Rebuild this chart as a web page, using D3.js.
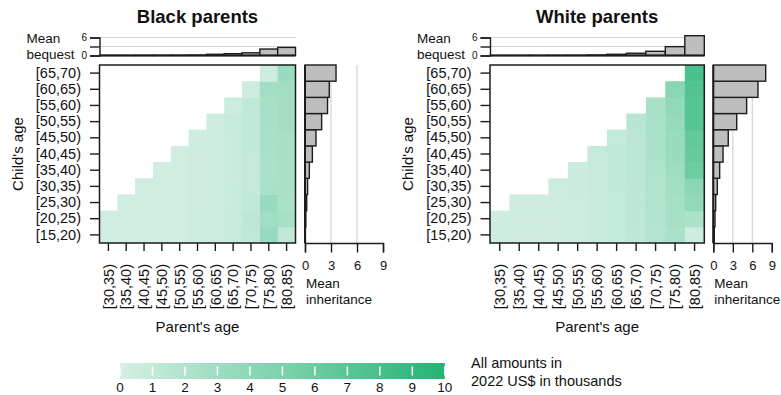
<!DOCTYPE html>
<html>
<head>
<meta charset="utf-8">
<script src="https://cdn.jsdelivr.net/npm/d3@7"></script>
<style>
  body { margin: 0; background: #fff; }
  svg text { font-family: "Liberation Sans", Arial, Helvetica, sans-serif; fill: #111; }
</style>
</head>
<body>
<svg id="chart" width="781" height="395"></svg>
<script>
// categories
const parentAges = ["[30,35)", "[35,40)", "[40,45)", "[45,50)", "[50,55)", "[55,60)",
  "[60,65)", "[65,70)", "[70,75)", "[75,80)", "[80,85)"];
const childAges = ["[15,20)", "[20,25)", "[25,30)", "[30,35)", "[35,40)", "[40,45)",
  "[45,50)", "[50,55)", "[55,60)", "[60,65)", "[65,70)"];

// mean bequest by parent's age (thousands)
const blackBequest = [0.05, 0.05, 0.06, 0.08, 0.1, 0.15, 0.4, 0.6, 0.9, 2.15, 2.7];
const whiteBequest = [0.03, 0.03, 0.04, 0.05, 0.08, 0.17, 0.4, 0.75, 1.4, 2.95, 6.6];

// mean inheritance by child's age (thousands)
const blackInherit = [0.05, 0.1, 0.2, 0.3, 0.5, 0.85, 1.27, 1.92, 2.6, 2.8, 3.58];
const whiteInherit = [0.15, 0.26, 0.37, 0.62, 0.98, 1.5, 2.3, 3.6, 5.13, 6.87, 8.06];

// heat cells: one row per child's age, one column per parent's age (null = no cell)
const N = null;
const blackHeat = [
  [0.3, 0.3, 0.3, 0.3, 0.35, 0.45, 0.55, 0.8, 1.2, 3.4, 1.2],
  [0.3, 0.3, 0.3, 0.3, 0.35, 0.45, 0.55, 0.8, 1.3, 2.9, 2.6],
  [N, 0.3, 0.3, 0.3, 0.35, 0.45, 0.5, 0.7, 1.1, 3.4, 2.4],
  [N, N, 0.3, 0.3, 0.35, 0.45, 0.5, 0.7, 1.0, 2.4, 2.5],
  [N, N, N, 0.3, 0.35, 0.45, 0.5, 0.7, 1.0, 2.3, 2.5],
  [N, N, N, N, 0.3, 0.45, 0.5, 0.7, 1.0, 2.4, 2.6],
  [N, N, N, N, N, 0.4, 0.5, 0.7, 1.1, 2.5, 2.6],
  [N, N, N, N, N, N, 0.4, 0.8, 1.1, 2.6, 2.8],
  [N, N, N, N, N, N, N, 0.5, 1.2, 2.6, 2.8],
  [N, N, N, N, N, N, N, N, 0.5, 2.8, 2.9],
  [N, N, N, N, N, N, N, N, N, 0.5, 3.3]
];
const whiteHeat = [
  [0.4, 0.4, 0.4, 0.45, 0.55, 0.75, 1.0, 1.3, 1.8, 2.4, 0.4],
  [0.4, 0.4, 0.4, 0.45, 0.55, 0.75, 1.0, 1.4, 1.9, 2.6, 2.3],
  [N, 0.4, 0.4, 0.45, 0.55, 0.75, 1.0, 1.4, 2.0, 2.7, 3.8],
  [N, N, N, 0.5, 0.6, 0.8, 1.05, 1.4, 2.0, 2.9, 4.2],
  [N, N, N, N, 0.6, 0.8, 1.1, 1.5, 2.2, 3.1, 5.8],
  [N, N, N, N, N, 0.8, 1.1, 1.5, 2.3, 3.3, 6.2],
  [N, N, N, N, N, N, 1.0, 1.5, 2.3, 3.4, 6.5],
  [N, N, N, N, N, N, N, 1.6, 2.4, 3.5, 7.2],
  [N, N, N, N, N, N, N, N, 2.5, 3.8, 7.2],
  [N, N, N, N, N, N, N, N, N, 4.3, 7.3],
  [N, N, N, N, N, N, N, N, N, N, 7.8]
];

const bequestTicks = [0, 3, 6];
const inheritTicks = [0, 3, 6, 9];
const legendTicks = d3.range(0, 11);

const color = d3.scaleLinear().domain([0, 10]).range(["#d5efe4", "#22b473"]);

const svg = d3.select("#chart");
const dark = "#1c1c1c";

function drawPanel(p) {
  const g = svg.append("g");
  const x = d3.scaleBand().domain(parentAges).range([p.x0, p.x1]);
  const y = d3.scaleBand().domain(childAges).range([243, 65]);

  // heat cells
  const cells = [];
  p.heat.forEach((row, r) => row.forEach((v, c) => {
    if (v !== null) cells.push({ child: childAges[r], parent: parentAges[c], v: v });
  }));
  g.selectAll("rect.cell").data(cells).join("rect")
    .attr("class", "cell")
    .attr("x", d => x(d.parent)).attr("y", d => y(d.child))
    .attr("width", x.bandwidth() + 0.5).attr("height", y.bandwidth() + 0.5)
    .attr("fill", d => color(d.v));
  g.append("rect")
    .attr("x", p.x0).attr("y", 65).attr("width", p.x1 - p.x0).attr("height", 178)
    .attr("fill", "none").attr("stroke", dark).attr("stroke-width", 1.5);

  // y axis
  const ya = g.append("g").attr("transform", `translate(${p.x0},0)`)
    .call(d3.axisLeft(y).tickSize(9.5).tickPadding(9));
  ya.select(".domain").remove();
  ya.selectAll("line").attr("stroke", dark).attr("stroke-width", 1.4);
  ya.selectAll("text").style("font-size", "14.5px").attr("fill", "#111");

  // x axis, rotated labels
  const xa = g.append("g").attr("transform", "translate(0,243)")
    .call(d3.axisBottom(x).tickSize(8));
  xa.select(".domain").remove();
  xa.selectAll("line").attr("stroke", dark).attr("stroke-width", 1.4);
  xa.selectAll("text")
    .attr("transform", "rotate(-90)")
    .attr("x", -21).attr("y", 0).attr("dy", "0.36em")
    .style("text-anchor", "end").style("font-size", "14.5px").attr("fill", "#111");

  // top bars: mean bequest
  const yb = d3.scaleLinear().domain([0, 6]).range([55.5, 37.5]);
  g.selectAll("line.hgrid").data(bequestTicks.slice(1)).join("line")
    .attr("class", "hgrid")
    .attr("x1", p.x0).attr("x2", p.x1).attr("y1", d => yb(d)).attr("y2", d => yb(d))
    .attr("stroke", "#d4d4d4").attr("stroke-width", 1.2);
  g.selectAll("rect.bq").data(p.bequest).join("rect")
    .attr("class", "bq")
    .attr("x", (d, i) => x(parentAges[i])).attr("width", x.bandwidth())
    .attr("y", d => yb(d)).attr("height", d => yb(0) - yb(d))
    .attr("fill", "#bebebe").attr("stroke", dark).attr("stroke-width", 1.4);
  g.append("line").attr("x1", p.x0).attr("x2", p.x1)
    .attr("y1", yb(0)).attr("y2", yb(0)).attr("stroke", dark).attr("stroke-width", 2);
  const ba = g.append("g").attr("transform", `translate(${p.x0},0)`)
    .call(d3.axisLeft(yb).tickValues(bequestTicks).tickSize(9.5).tickPadding(3)
      .tickFormat(d => d === 3 ? "" : d));
  ba.select(".domain").attr("stroke", dark).attr("stroke-width", 1.4);
  ba.selectAll("line").attr("stroke", dark).attr("stroke-width", 1.4);
  ba.selectAll("text").style("font-size", "10px").attr("fill", "#111");
  g.append("text").attr("x", p.x0 - 73).attr("y", 43).text("Mean").style("font-size", "13.5px");
  g.append("text").attr("x", p.x0 - 73).attr("y", 59).text("bequest").style("font-size", "13.5px");

  // right bars: mean inheritance
  const xr = d3.scaleLinear().domain([0, 9]).range([p.r0, p.r1]);
  g.selectAll("line.vgrid").data(inheritTicks.slice(1, 3)).join("line")
    .attr("class", "vgrid")
    .attr("x1", d => xr(d)).attr("x2", d => xr(d)).attr("y1", 65).attr("y2", 243)
    .attr("stroke", "#d4d4d4").attr("stroke-width", 1.2);
  g.selectAll("rect.inh").data(p.inherit).join("rect")
    .attr("class", "inh")
    .attr("y", (d, i) => y(childAges[i])).attr("height", y.bandwidth())
    .attr("x", xr(0)).attr("width", d => xr(d) - xr(0))
    .attr("fill", "#bebebe").attr("stroke", dark).attr("stroke-width", 1.4);
  g.append("line").attr("x1", xr(0)).attr("x2", xr(0)).attr("y1", 65).attr("y2", 243)
    .attr("stroke", dark).attr("stroke-width", 2);
  const ra = g.append("g").attr("transform", "translate(0,243)")
    .call(d3.axisBottom(xr).tickValues(inheritTicks).tickSize(9.5).tickPadding(8));
  ra.select(".domain").attr("stroke", dark).attr("stroke-width", 1.4);
  ra.selectAll("line").attr("stroke", dark).attr("stroke-width", 1.4);
  ra.selectAll("text").style("font-size", "13px").attr("fill", "#111");
  g.append("text").attr("x", p.r0 + 1).attr("y", 288).text("Mean").style("font-size", "13.5px");
  g.append("text").attr("x", p.r0 + 1).attr("y", 304).text("inheritance").style("font-size", "13.5px");

  // titles
  g.append("text").attr("x", (p.x0 + p.x1) / 2).attr("y", 23)
    .attr("text-anchor", "middle").style("font-size", "18.5px").style("font-weight", "bold")
    .text(p.title);
  g.append("text").attr("transform", `translate(${p.x0 - 77},154) rotate(-90)`)
    .attr("text-anchor", "middle").style("font-size", "15px").text("Child's age");
  g.append("text").attr("x", (p.x0 + p.x1) / 2).attr("y", 332)
    .attr("text-anchor", "middle").style("font-size", "15px").text("Parent's age");
}

drawPanel({ title: "Black parents", x0: 99.5, x1: 295.5, r0: 305, r1: 383,
  heat: blackHeat, bequest: blackBequest, inherit: blackInherit });
drawPanel({ title: "White parents", x0: 490, x1: 704.3, r0: 713.3, r1: 771.8,
  heat: whiteHeat, bequest: whiteBequest, inherit: whiteInherit });

// colour legend
const lx = d3.scaleLinear().domain([0, 10]).range([120, 444.8]);
const grad = svg.append("defs").append("linearGradient").attr("id", "lg");
grad.selectAll("stop").data(legendTicks).join("stop")
  .attr("offset", d => (d / 10 * 100) + "%").attr("stop-color", d => color(d));
svg.append("rect").attr("x", lx(0)).attr("y", 363).attr("width", lx(10) - lx(0))
  .attr("height", 16).attr("fill", "url(#lg)");
svg.selectAll("line.lt").data(legendTicks).join("line")
  .attr("class", "lt")
  .attr("x1", d => lx(d)).attr("x2", d => lx(d)).attr("y1", 366.5).attr("y2", 375.5)
  .attr("stroke", "#fff").attr("stroke-width", 1.5);
svg.selectAll("text.ll").data(legendTicks).join("text")
  .attr("class", "ll")
  .attr("x", d => lx(d)).attr("y", 391.5).attr("text-anchor", "middle")
  .style("font-size", "13.5px").text(d => d);
svg.append("text").attr("x", 471).attr("y", 368).style("font-size", "14.5px").text("All amounts in");
svg.append("text").attr("x", 471).attr("y", 386).style("font-size", "14.5px").text("2022 US$ in thousands");
</script>
</body>
</html>
